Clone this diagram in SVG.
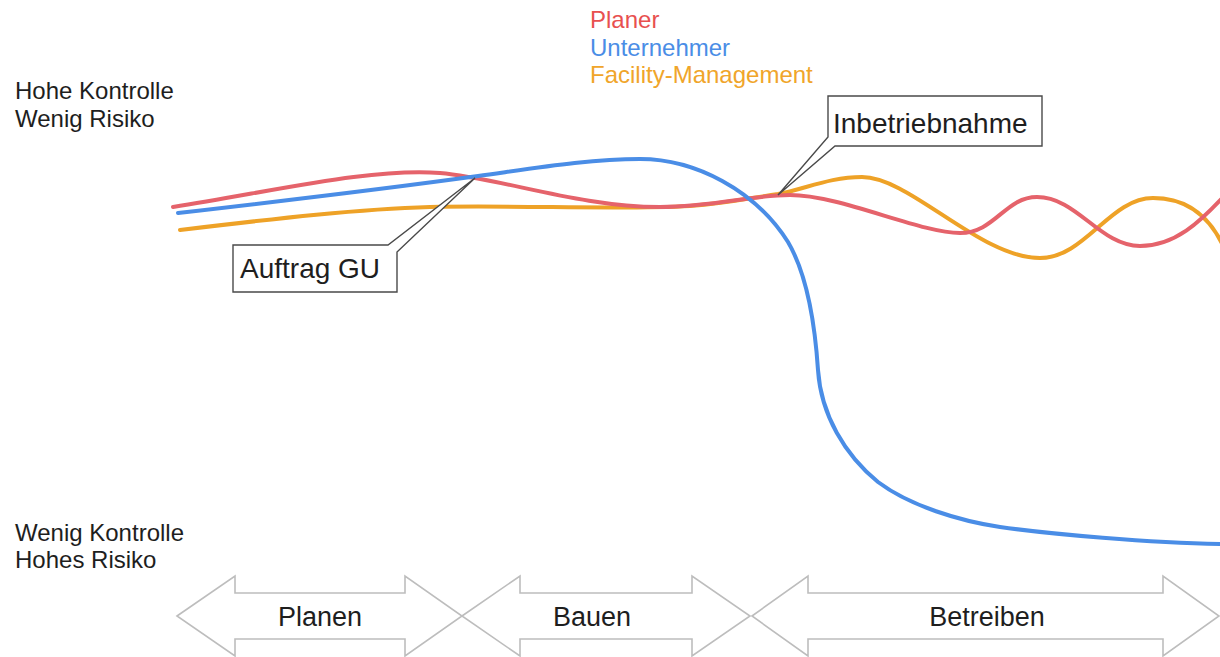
<svg xmlns="http://www.w3.org/2000/svg" width="1220" height="657" viewBox="0 0 1220 657">
  <style>
    .lbl { font-family: "Liberation Sans", Arial, Helvetica, sans-serif; font-size: 24px; fill: #1e1e1e; }
    .big { font-family: "Liberation Sans", Arial, Helvetica, sans-serif; font-size: 28px; fill: #1e1e1e; }
    .phase-txt { font-family: "Liberation Sans", Arial, Helvetica, sans-serif; font-size: 27px; fill: #1e1e1e; text-anchor: middle; }
    .curve { fill: none; stroke-width: 4; stroke-linecap: round; stroke-linejoin: round; }
    .planer { stroke: #e5636b; }
    .unternehmer { stroke: #4a8de6; }
    .fm { stroke: #eea227; }
    .callout { fill: #ffffff; stroke: #4a4a4a; stroke-width: 1.4; stroke-linejoin: miter; }
    .phase { fill: #ffffff; stroke: #bdbdbd; stroke-width: 1.6; stroke-linejoin: miter; }
  </style>

  <rect x="0" y="0" width="1220" height="657" fill="#ffffff"/>

  <!-- legend -->
  <g id="legend">
    <text class="lbl" x="590" y="28" style="fill:#e8504f">Planer</text>
    <text class="lbl" x="590" y="55.5" style="fill:#4a8de6">Unternehmer</text>
    <text class="lbl" x="590" y="83" style="fill:#f0a52a">Facility-Management</text>
  </g>

  <!-- axis labels -->
  <g id="axis-high">
    <text class="lbl" x="15" y="99">Hohe Kontrolle</text>
    <text class="lbl" x="15" y="127">Wenig Risiko</text>
  </g>
  <g id="axis-low">
    <text class="lbl" x="15" y="541">Wenig Kontrolle</text>
    <text class="lbl" x="15" y="568">Hohes Risiko</text>
  </g>

  <!-- control/risk curves -->
  <g id="curves">
    <path id="curve-fm" class="curve fm" d="M180,230 C280,218 360,209 430,207 C520,205 620,210 690,206 C730,203 750,198 778,194 C805,189 830,177 862,177 C910,177 980,258 1040,258 C1085,258 1110,198 1153,198 C1185,198 1210,215 1225,250"/>
    <path id="curve-planer" class="curve planer" d="M173,207 C280,190 370,168 440,173 C500,178 580,207 660,207 C715,207 750,195 790,195 C840,195 920,233 960,233 C995,233 1005,197 1037,197 C1077,197 1100,246 1140,246 C1175,246 1200,222 1225,195"/>
    <path id="curve-unternehmer" class="curve unternehmer" d="M178,213 C300,199 420,184 478,176 C536,168 590,159 640,159 C695,159 755,190 788,242 C808,276 815,325 818,370 C821,415 845,455 878,482 C910,506 960,521 1000,527 C1050,534 1150,543 1222,544"/>
  </g>

  <!-- milestone callouts -->
  <g id="callout-auftrag">
    <path class="callout" d="M233,245 L388,245 L475,178 L397,252 L397,292 L233,292 Z"/>
    <text class="big" x="240" y="278">Auftrag GU</text>
  </g>
  <g id="callout-inbetrieb">
    <path class="callout" d="M828,96 L1042,96 L1042,146 L835,146 L778,195 L828,137 Z"/>
    <text class="big" x="833" y="133">Inbetriebnahme</text>
  </g>

  <!-- project phases -->
  <g id="phase-planen">
    <path class="phase" d="M177,616 L235,576 L235,593 L405,593 L405,576 L462,616 L405,656 L405,639 L235,639 L235,656 Z"/>
    <text class="phase-txt" x="320" y="626">Planen</text>
  </g>
  <g id="phase-bauen">
    <path class="phase" d="M462,616 L520,576 L520,593 L692,593 L692,576 L750,616 L692,656 L692,639 L520,639 L520,656 Z"/>
    <text class="phase-txt" x="592" y="626">Bauen</text>
  </g>
  <g id="phase-betreiben">
    <path class="phase" d="M752,616 L808,576 L808,593 L1163,593 L1163,576 L1219,616 L1163,656 L1163,639 L808,639 L808,656 Z"/>
    <text class="phase-txt" x="987" y="626">Betreiben</text>
  </g>
</svg>
